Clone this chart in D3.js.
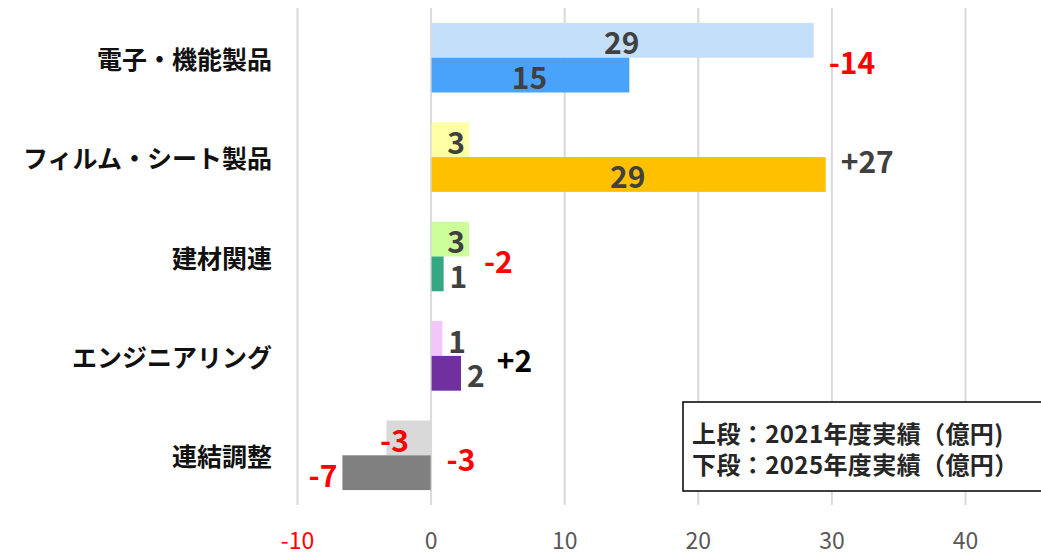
<!DOCTYPE html>
<html>
<head>
<meta charset="utf-8">
<script src="https://cdn.jsdelivr.net/npm/d3@7"></script>
<style>
  body { margin: 0; background: #fff; }
  svg { font-family: "Noto Sans CJK JP", "Noto Sans", sans-serif; }
</style>
</head>
<body>
<div id="chart"></div>
<script>
// categories (top to bottom)
const categories = ["電子・機能製品", "フィルム・シート製品", "建材関連", "エンジニアリング", "連結調整"];
// 2021 actual (upper bar) and 2025 actual (lower bar), 億円
const values2021 = [28.6, 2.8, 2.8, 0.8, -3.3];
const values2025 = [14.8, 29.5, 0.9, 2.2, -6.6];
const labels2021 = ["29", "3", "3", "1", "-3"];
const labels2025 = ["15", "29", "1", "2", "-7"];
const diffLabels = ["-14", "+27", "-2", "+2", "-3"];
const colors2021 = ["#c3dffa", "#ffffa6", "#ccff99", "#f2c6fa", "#d9d9d9"];
const colors2025 = ["#4aa3fa", "#ffc000", "#34a882", "#7030a0", "#808080"];
const diffColors = ["#ff0000", "#404040", "#ff0000", "#000000", "#ff0000"];
const ticks = [-10, 0, 10, 20, 30, 40];
const legendLines = ["上段：2021年度実績（億円)", "下段：2025年度実績（億円）"];

const width = 1041, height = 555;
const plotTop = 8, plotBottom = 505;

const svg = d3.select("#chart").append("svg")
    .attr("width", width)
    .attr("height", height);

const x = d3.scaleLinear()
    .domain([-10, 40])
    .range([297, 965]);

const y = d3.scaleBand()
    .domain(categories)
    .range([plotTop, plotBottom]);

const sub = d3.scaleBand()
    .domain(["2021", "2025"])
    .range([y.bandwidth() * 0.15, y.bandwidth() * 0.85]);

// gridlines + tick labels
const axis = svg.append("g")
    .attr("transform", `translate(0,${plotBottom})`)
    .call(d3.axisBottom(x).tickValues(ticks).tickFormat(d => String(d))
        .tickSize(-(plotBottom - plotTop)).tickPadding(28));
axis.select(".domain").remove();
axis.selectAll(".tick line")
    .attr("stroke", "#d9d9d9")
    .attr("stroke-width", 2);
axis.selectAll(".tick text")
    .attr("font-size", 23)
    .attr("font-family", "'Noto Sans CJK JP', sans-serif")
    .attr("fill", d => d < 0 ? "#ff0000" : "#595959");

// category labels
svg.append("g").selectAll("text")
    .data(categories)
    .enter().append("text")
    .attr("x", 272)
    .attr("y", d => y(d) + y.bandwidth() / 2)
    .attr("text-anchor", "end")
    .attr("dominant-baseline", "central")
    .attr("font-size", 25)
    .attr("font-weight", "bold")
    .attr("fill", "#111")
    .text(d => d);

// bars
const rows = [];
categories.forEach((c, i) => {
    rows.push({ cat: c, i, key: "2021", v: values2021[i], label: labels2021[i], color: colors2021[i] });
    rows.push({ cat: c, i, key: "2025", v: values2025[i], label: labels2025[i], color: colors2025[i] });
});

svg.append("g").selectAll("rect")
    .data(rows)
    .enter().append("rect")
    .attr("x", d => x(Math.min(0, d.v)) + (d.v > 0 ? 1 : 0))
    .attr("y", d => y(d.cat) + sub(d.key))
    .attr("width", d => Math.abs(x(d.v) - x(0)))
    .attr("height", sub.bandwidth())
    .attr("fill", d => d.color);

// value labels: center if wide, inside end if medium, outside end if narrow
const rightEdge = categories.map((c, i) => x(Math.max(0, values2021[i], values2025[i])));
svg.append("g").selectAll("text")
    .data(rows)
    .enter().append("text")
    .attr("y", d => y(d.cat) + sub(d.key) + sub.bandwidth() / 2 + 1)
    .attr("dominant-baseline", "central")
    .attr("font-size", 30)
    .attr("font-weight", "bold")
    .attr("fill", d => d.v < 0 ? "#ff0000" : "#404040")
    .text(d => d.label)
    .each(function(d) {
        const w = Math.abs(x(d.v) - x(0));
        const sel = d3.select(this);
        if (d.v < 0) {
            if (w < 60) sel.attr("x", x(d.v) + 8).attr("text-anchor", "middle");
            else sel.attr("x", x(d.v) - 5).attr("text-anchor", "end");
        } else if (w > 100) {
            sel.attr("x", (x(d.v) + x(0)) / 2).attr("text-anchor", "middle");
        } else if (w > 30) {
            sel.attr("x", x(d.v) - 3).attr("text-anchor", "end");
        } else {
            sel.attr("x", x(d.v) + 7).attr("text-anchor", "start");
        }
        const b = this.getBBox();
        rightEdge[d.i] = Math.max(rightEdge[d.i], b.x + b.width - 4);
    });

// difference labels
svg.append("g").selectAll("text")
    .data(diffLabels)
    .enter().append("text")
    .attr("x", (d, i) => rightEdge[i] + 16)
    .attr("y", (d, i) => y(categories[i]) + y.bandwidth() / 2 + 3)
    .attr("dominant-baseline", "central")
    .attr("font-size", 30)
    .attr("font-weight", "bold")
    .attr("fill", (d, i) => diffColors[i])
    .text(d => d);

// legend box
const legend = svg.append("g");
legend.append("rect")
    .attr("x", 683)
    .attr("y", 402)
    .attr("width", 360)
    .attr("height", 89)
    .attr("fill", "#fff")
    .attr("stroke", "#000")
    .attr("stroke-width", 1.5);
legend.selectAll("text")
    .data(legendLines)
    .enter().append("text")
    .attr("x", 692)
    .attr("y", (d, i) => 432 + i * 31)
    .attr("dominant-baseline", "central")
    .attr("font-size", 24)
    .attr("letter-spacing", 0.4)
    .attr("font-weight", "bold")
    .attr("fill", "#262626")
    .text(d => d);
</script>
</body>
</html>
